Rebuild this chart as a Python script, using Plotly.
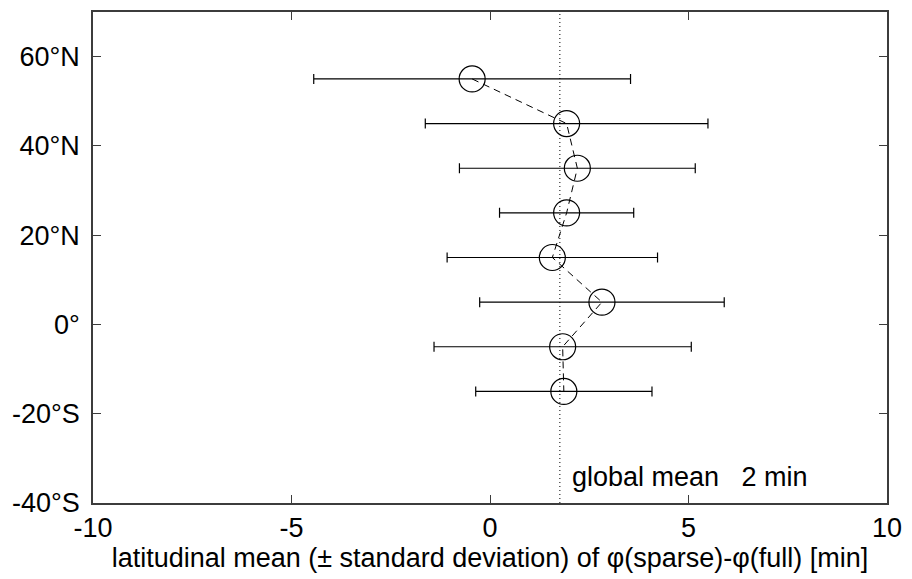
import plotly.graph_objects as go

latitudes = [55, 45, 35, 25, 15, 5, -5, -15]
mean_diff = [-0.45, 1.93, 2.2, 1.93, 1.57, 2.82, 1.83, 1.86]
std_diff = [3.99, 3.56, 2.97, 1.69, 2.65, 3.08, 3.24, 2.22]
global_mean = 1.76
global_mean_label = "global mean   2 min"

y_tickvals = [-40, -20, 0, 20, 40, 60]
y_ticktext = ["-40°S", "-20°S", "0°", "20°N", "40°N", "60°N"]
x_tickvals = [-10, -5, 0, 5, 10]
x_ticktext = ["-10", "-5", "0", "5", "10"]

FONT = "Liberation Sans, Arial, sans-serif"
AXC = "#3c3c3c"
FS = 27

fig = go.Figure()

# dotted global mean line
fig.add_trace(go.Scatter(
    x=[global_mean, global_mean], y=[-40, 70], mode="lines",
    line=dict(color="black", width=1, dash="1px,3px"), showlegend=False, hoverinfo="skip"))

# dashed connecting line
fig.add_trace(go.Scatter(
    x=mean_diff, y=latitudes, mode="lines",
    line=dict(color="black", width=1, dash="7px,5px"), showlegend=False))

# markers with error bars
fig.add_trace(go.Scatter(
    x=mean_diff, y=latitudes, mode="markers",
    marker=dict(symbol="circle-open", size=26, color="black", line=dict(width=1.2, color="black")),
    error_x=dict(type="data", array=std_diff, visible=True, color="black", thickness=1.2, width=5),
    showlegend=False))

fig.add_annotation(
    x=global_mean, y=-34.2, xref="x", yref="y", text=global_mean_label,
    showarrow=False, xanchor="left", yanchor="middle", xshift=10,
    font=dict(family=FONT, size=FS, color="black"))

fig.update_xaxes(
    range=[-10, 10], tickvals=x_tickvals, ticktext=x_ticktext,
    showline=True, linecolor=AXC, linewidth=1.5, mirror="ticks",
    ticks="inside", ticklen=8, tickcolor=AXC, showgrid=False, zeroline=False,
    tickfont=dict(family=FONT, size=FS, color="black"),
    title=dict(text="latitudinal mean (± standard deviation) of φ(sparse)-φ(full) [min]",
               font=dict(family=FONT, size=FS, color="black"), standoff=2))
fig.update_yaxes(
    range=[-40, 70], tickvals=y_tickvals, ticktext=y_ticktext,
    showline=True, linecolor=AXC, linewidth=1.5, mirror="ticks",
    ticks="inside", ticklen=8, tickcolor=AXC, showgrid=False, zeroline=False,
    ticklabelstandoff=6,
    tickfont=dict(family=FONT, size=FS, color="black"))

fig.update_layout(
    width=912, height=579,
    margin=dict(l=93, r=19, t=10, b=76),
    plot_bgcolor="white", paper_bgcolor="white",
    showlegend=False)

fig.write_html("out.html", config={"displayModeBar": False},
               post_script="document.body.style.margin='0';")
